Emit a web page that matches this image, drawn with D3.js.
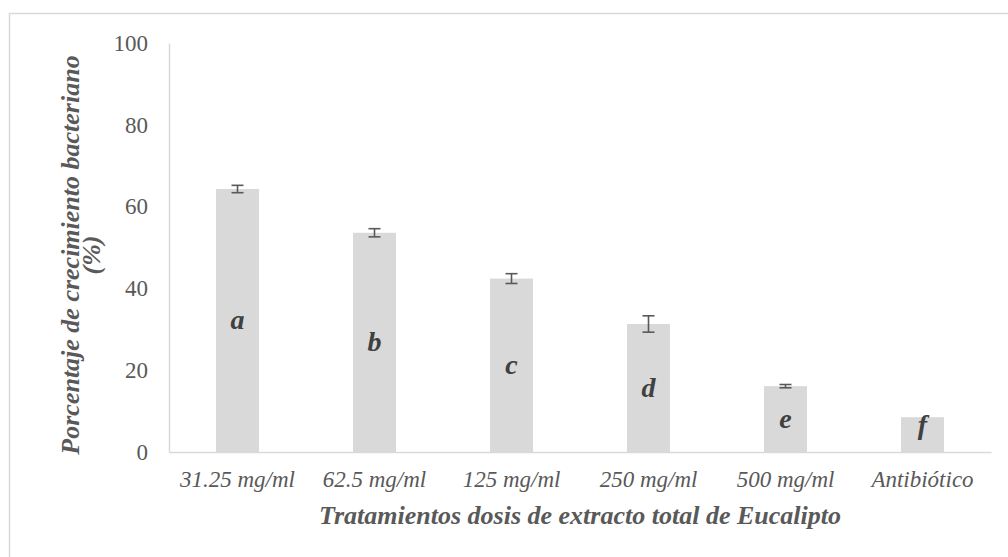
<!DOCTYPE html>
<html>
<head>
<meta charset="utf-8">
<script src="https://cdn.jsdelivr.net/npm/d3@7"></script>
<style>
  html, body { margin: 0; padding: 0; background: #fff; }
  svg { display: block; }
</style>
</head>
<body>
<svg id="chart" width="1008" height="557"></svg>
<script>
// Bacterial growth (%) by eucalyptus extract dose
const categories = ["31.25 mg/ml", "62.5 mg/ml", "125 mg/ml", "250 mg/ml", "500 mg/ml", "Antibiótico"];
const values = [64.3, 53.6, 42.4, 31.3, 16.1, 8.5];
const errors = [0.9, 1.0, 1.2, 2.0, 0.4, 0];
const groupLetters = ["a", "b", "c", "d", "e", "f"];
const yTicks = [0, 20, 40, 60, 80, 100];

const svg = d3.select("#chart");
const textColor = "#595959";
const serif = "'Liberation Serif', 'Times New Roman', serif";

// outer chart border
svg.append("rect")
  .attr("x", 9.5).attr("y", 13.5)
  .attr("width", 1010).attr("height", 560)
  .attr("fill", "none").attr("stroke", "#d9d9d9").attr("stroke-width", 1.5);

const plotLeft = 169, plotRight = 991, plotTop = 43, plotBottom = 452;

const x = d3.scaleBand().domain(categories).range([plotLeft, plotRight]).paddingInner(0.686).paddingOuter(0.343);
const y = d3.scaleLinear().domain([0, 100]).range([plotBottom, plotTop]);

// bars
svg.append("g").selectAll("rect")
  .data(values)
  .join("rect")
  .attr("x", (d, i) => x(categories[i]))
  .attr("y", d => y(d))
  .attr("width", x.bandwidth())
  .attr("height", d => y(0) - y(d))
  .attr("fill", "#d9d9d9");

// y axis
const yAxis = svg.append("g")
  .attr("transform", `translate(${plotLeft},0)`)
  .call(d3.axisLeft(y).tickValues(yTicks).tickSize(0).tickPadding(21));
yAxis.select(".domain").attr("stroke", "#d9d9d9").attr("stroke-width", 1.5);
yAxis.selectAll("text")
  .attr("fill", textColor).style("font-family", serif).style("font-size", "23px");

// x axis
const xAxis = svg.append("g")
  .attr("transform", `translate(0,${plotBottom})`)
  .call(d3.axisBottom(x).tickSize(0).tickPadding(19));
xAxis.select(".domain").attr("stroke", "#d9d9d9").attr("stroke-width", 1.5);
xAxis.selectAll("text")
  .attr("fill", textColor).style("font-family", serif).style("font-size", "23px")
  .style("font-style", "italic");

// error bars
const eb = svg.append("g").attr("stroke", "#595959").attr("stroke-width", 1.6).attr("fill", "none");
values.forEach((v, i) => {
  const e = errors[i];
  if (!e) return;
  const cx = x(categories[i]) + x.bandwidth() / 2;
  const hw = 6;
  eb.append("line").attr("x1", cx).attr("x2", cx).attr("y1", y(v + e)).attr("y2", y(v - e));
  eb.append("line").attr("x1", cx - hw).attr("x2", cx + hw).attr("y1", y(v + e)).attr("y2", y(v + e));
  eb.append("line").attr("x1", cx - hw).attr("x2", cx + hw).attr("y1", y(v - e)).attr("y2", y(v - e));
});

// significance letters inside bars
svg.append("g").selectAll("text")
  .data(values)
  .join("text")
  .attr("x", (d, i) => x(categories[i]) + x.bandwidth() / 2)
  .attr("y", d => Math.min(y(d / 2), y(0) - 27))
  .attr("dy", "0.32em")
  .attr("text-anchor", "middle")
  .attr("fill", "#404040")
  .style("font-family", serif).style("font-size", "28px")
  .style("font-weight", "bold").style("font-style", "italic")
  .text((d, i) => groupLetters[i]);

// axis titles
svg.append("text")
  .attr("x", (plotLeft + plotRight) / 2).attr("y", 524)
  .attr("text-anchor", "middle")
  .attr("fill", textColor)
  .style("font-family", serif).style("font-size", "26px")
  .style("font-weight", "bold").style("font-style", "italic")
  .text("Tratamientos dosis de extracto total de Eucalipto");

const yTitle = svg.append("text")
  .attr("transform", "translate(0,255) rotate(-90)")
  .attr("text-anchor", "middle")
  .attr("fill", textColor)
  .style("font-family", serif).style("font-size", "26px")
  .style("font-weight", "bold").style("font-style", "italic");
yTitle.append("tspan").attr("x", 0).attr("y", 79).text("Porcentaje de crecimiento bacteriano");
yTitle.append("tspan").attr("x", 0).attr("y", 100).text("(%)");
</script>
</body>
</html>
